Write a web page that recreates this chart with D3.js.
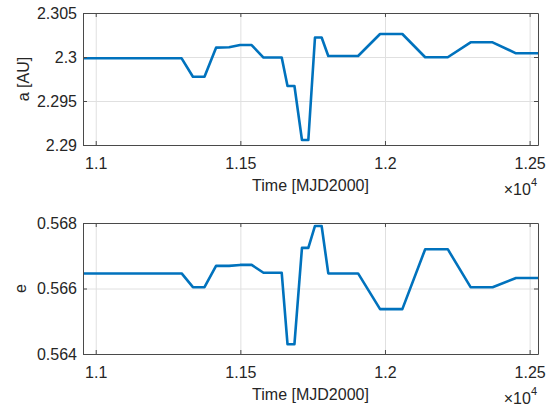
<!DOCTYPE html>
<html>
<head>
<meta charset="utf-8">
<script src="https://cdn.jsdelivr.net/npm/d3@7"></script>
<style>
  body { margin: 0; background: #fff; }
  svg { display: block; }
  text { font-family: Helvetica, Arial, "Liberation Sans", sans-serif; fill: #262626; }
</style>
</head>
<body>
<svg id="chart" width="551" height="410"></svg>
<script>
// Epochs (MJD2000) shared by both orbital elements
const timeMJD = [10956, 11297, 11336, 11376, 11416, 11461, 11499, 11539, 11580, 11643,
                 11663, 11687, 11713, 11735, 11758, 11781, 11804, 11907, 11983, 12060,
                 12139, 12217, 12296, 12372, 12453, 12529];

// Semi-major axis [AU]
const semiMajorAxis = [2.29985, 2.29985, 2.29776, 2.29776, 2.30106, 2.30110, 2.30136, 2.30136, 2.29994, 2.29994,
                       2.29670, 2.29670, 2.29057, 2.29057, 2.30222, 2.30222, 2.30011, 2.30011, 2.30261, 2.30261,
                       2.29997, 2.29997, 2.30167, 2.30167, 2.30042, 2.30042];

// Eccentricity
const eccentricity = [0.56646, 0.56646, 0.56604, 0.56604, 0.56669, 0.56669, 0.56672, 0.56672, 0.56648, 0.56648,
                      0.56430, 0.56430, 0.56724, 0.56724, 0.56791, 0.56791, 0.56646, 0.56646, 0.56537, 0.56537,
                      0.56720, 0.56720, 0.56604, 0.56604, 0.56632, 0.56632];

// Axis ticks and labels
const xTickValues = [11000, 11500, 12000, 12500];
const xTickLabels = ["1.1", "1.15", "1.2", "1.25"];
const aTickValues = [2.29, 2.295, 2.3, 2.305];
const aTickLabels = ["2.29", "2.295", "2.3", "2.305"];
const eTickValues = [0.564, 0.566, 0.568];
const eTickLabels = ["0.564", "0.566", "0.568"];

const svg = d3.select("#chart");
const left = 83, right = 538;
const lineColor = "#0072BD";
const boxColor = "#4a4a4a";
const gridColor = "#e0e0e0";
const fontSize = 16;

const x = d3.scaleLinear().domain([timeMJD[0], timeMJD[timeMJD.length - 1]]).range([left, right]);

function panel(cfg) {
  const { top, bottom, yDomain, values, yTicks, yLabels, yTitle, yTitleX } = cfg;
  const y = d3.scaleLinear().domain(yDomain).range([bottom, top]);
  const g = svg.append("g");
  const h = bottom - top, w = right - left;

  // grid
  g.append("g").attr("transform", `translate(0,${bottom})`)
    .call(d3.axisBottom(x).tickValues(xTickValues).tickSize(-h).tickFormat(""))
    .call(s => s.select(".domain").remove())
    .call(s => s.selectAll("line").attr("stroke", gridColor));
  g.append("g").attr("transform", `translate(${left},0)`)
    .call(d3.axisLeft(y).tickValues(yTicks).tickSize(-w).tickFormat(""))
    .call(s => s.select(".domain").remove())
    .call(s => s.selectAll("line").attr("stroke", gridColor));

  // data line
  const data = timeMJD.map((t, i) => [t, values[i]]);
  g.append("path").datum(data)
    .attr("fill", "none")
    .attr("stroke", lineColor)
    .attr("stroke-width", 2.6)
    .attr("stroke-linejoin", "round")
    .attr("d", d3.line().x(d => x(d[0])).y(d => y(d[1])));

  const styleAxis = s => {
    s.select(".domain").attr("stroke", boxColor);
    s.selectAll(".tick line").attr("stroke", boxColor);
    s.selectAll("text").attr("font-size", fontSize).attr("fill", "#262626")
      .attr("font-family", "Helvetica, Arial, 'Liberation Sans', sans-serif");
  };

  // bottom axis with labels
  g.append("g").attr("transform", `translate(0,${bottom})`)
    .call(d3.axisBottom(x).tickValues(xTickValues).tickSizeInner(-4).tickSizeOuter(0)
      .tickPadding(12.5).tickFormat((d, i) => xTickLabels[i]))
    .call(styleAxis);
  // top axis mirror ticks
  g.append("g").attr("transform", `translate(0,${top})`)
    .call(d3.axisTop(x).tickValues(xTickValues).tickSizeInner(-4).tickSizeOuter(0).tickFormat(""))
    .call(styleAxis);
  // left axis with labels
  g.append("g").attr("transform", `translate(${left},0)`)
    .call(d3.axisLeft(y).tickValues(yTicks).tickSizeInner(-4).tickSizeOuter(0)
      .tickPadding(6).tickFormat((d, i) => yLabels[i]))
    .call(styleAxis);
  // right axis mirror ticks
  g.append("g").attr("transform", `translate(${right},0)`)
    .call(d3.axisRight(y).tickValues(yTicks).tickSizeInner(-4).tickSizeOuter(0).tickFormat(""))
    .call(styleAxis);

  // y title
  g.append("text")
    .attr("transform", `translate(${yTitleX},${(top + bottom) / 2}) rotate(-90)`)
    .attr("text-anchor", "middle")
    .attr("font-size", fontSize)
    .text(yTitle);

  // x title
  g.append("text")
    .attr("x", (left + right) / 2).attr("y", bottom + 45.5)
    .attr("text-anchor", "middle")
    .attr("font-size", fontSize)
    .text("Time [MJD2000]");

  // exponent multiplier
  const ex = g.append("text")
    .attr("x", right - 1).attr("y", bottom + 50)
    .attr("text-anchor", "end")
    .attr("font-size", fontSize);
  ex.append("tspan").text("\u00d710");
  ex.append("tspan").attr("font-size", 11).attr("dy", -9).text("4");
}

panel({ top: 13, bottom: 145, yDomain: [2.29, 2.305], values: semiMajorAxis,
        yTicks: aTickValues, yLabels: aTickLabels, yTitle: "a [AU]", yTitleX: 28.5 });
panel({ top: 223, bottom: 354, yDomain: [0.564, 0.568], values: eccentricity,
        yTicks: eTickValues, yLabels: eTickLabels, yTitle: "e", yTitleX: 25.5 });
</script>
</body>
</html>
